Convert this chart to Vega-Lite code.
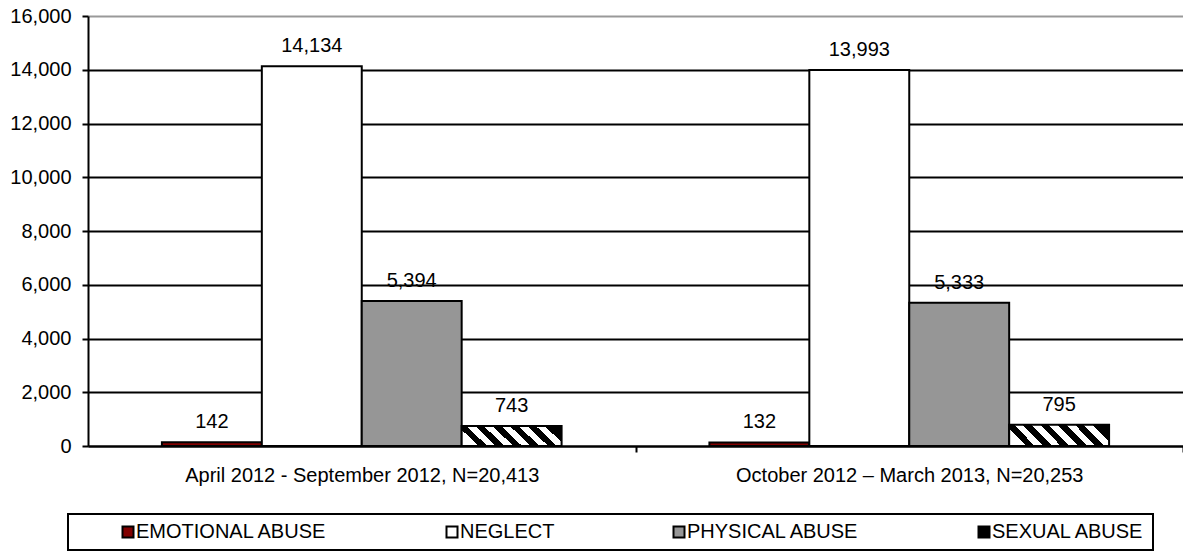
{
  "$schema": "https://vega.github.io/schema/vega-lite/v6.json",
  "autosize": {"type": "none"},
  "width": 1095,
  "height": 430,
  "padding": {"left": 88, "top": 16, "right": 0, "bottom": 108},
  "background": "white",
  "config": {
    "view": {"stroke": null},
    "font": "Liberation Sans",
    "axis": {"labelFont": "Liberation Sans", "labelColor": "black", "titleColor": "black"}
  },
  "data": {
    "values": [
      {"period": "April 2012 - September 2012, N=20,413", "type": "EMOTIONAL ABUSE", "count": 142},
      {"period": "April 2012 - September 2012, N=20,413", "type": "NEGLECT", "count": 14134},
      {"period": "April 2012 - September 2012, N=20,413", "type": "PHYSICAL ABUSE", "count": 5394},
      {"period": "April 2012 - September 2012, N=20,413", "type": "SEXUAL ABUSE", "count": 743},
      {"period": "October 2012 – March 2013, N=20,253", "type": "EMOTIONAL ABUSE", "count": 132},
      {"period": "October 2012 – March 2013, N=20,253", "type": "NEGLECT", "count": 13993},
      {"period": "October 2012 – March 2013, N=20,253", "type": "PHYSICAL ABUSE", "count": 5333},
      {"period": "October 2012 – March 2013, N=20,253", "type": "SEXUAL ABUSE", "count": 795}
    ]
  },
  "encoding": {
    "x": {
      "field": "period",
      "type": "nominal",
      "sort": null,
      "title": null,
      "scale": {"paddingInner": 0.27, "paddingOuter": 0.135},
      "axis": {
        "labelAngle": 0,
        "labelFontSize": 20,
        "labelBaseline": "alphabetic",
        "labelPadding": 29,
        "labelLimit": 600,
        "bandPosition": 0.5,
        "tickExtra": false,
        "tickOffset": 274,
        "labelOffset": -274,
        "ticks": true,
        "tickSize": 6,
        "tickWidth": 2,
        "tickColor": "black",
        "domainColor": "black",
        "domainWidth": 2,
        "grid": false
      }
    },
    "xOffset": {
      "field": "type",
      "type": "nominal",
      "sort": ["EMOTIONAL ABUSE", "NEGLECT", "PHYSICAL ABUSE", "SEXUAL ABUSE"],
      "scale": {"paddingInner": 0, "paddingOuter": 0}
    },
    "y": {
      "field": "count",
      "type": "quantitative",
      "title": null,
      "scale": {"domain": [0, 16000], "nice": false},
      "axis": {
        "values": [0, 2000, 4000, 6000, 8000, 10000, 12000, 14000, 16000],
        "format": ",.0f",
        "labelFontSize": 20,
        "labelPadding": 11,
        "tickSize": 6,
        "tickWidth": 2,
        "tickColor": "black",
        "domainColor": "black",
        "domainWidth": 2,
        "grid": true,
        "gridWidth": 2,
        "gridColor": {"condition": {"test": "datum.value === 16000", "value": "#999999"}, "value": "black"}
      }
    }
  },
  "layer": [
    {
      "mark": {"type": "bar", "stroke": "black", "strokeWidth": 2, "fillOpacity": 1},
      "encoding": {
        "fill": {
          "condition": {
            "test": "datum.type === 'SEXUAL ABUSE'",
            "value": {
              "gradient": "linear",
              "x1": 0, "y1": 0.605, "x2": 1, "y2": 0.395,
              "stops": [
                {"offset": 0, "color": "#ffffff"}, {"offset": 0.0833, "color": "#ffffff"},
                {"offset": 0.0833, "color": "#000000"}, {"offset": 0.1667, "color": "#000000"},
                {"offset": 0.1667, "color": "#ffffff"}, {"offset": 0.25, "color": "#ffffff"},
                {"offset": 0.25, "color": "#000000"}, {"offset": 0.3333, "color": "#000000"},
                {"offset": 0.3333, "color": "#ffffff"}, {"offset": 0.4167, "color": "#ffffff"},
                {"offset": 0.4167, "color": "#000000"}, {"offset": 0.5, "color": "#000000"},
                {"offset": 0.5, "color": "#ffffff"}, {"offset": 0.5833, "color": "#ffffff"},
                {"offset": 0.5833, "color": "#000000"}, {"offset": 0.6667, "color": "#000000"},
                {"offset": 0.6667, "color": "#ffffff"}, {"offset": 0.75, "color": "#ffffff"},
                {"offset": 0.75, "color": "#000000"}, {"offset": 0.8333, "color": "#000000"},
                {"offset": 0.8333, "color": "#ffffff"}, {"offset": 0.9167, "color": "#ffffff"},
                {"offset": 0.9167, "color": "#000000"}, {"offset": 1, "color": "#000000"}
              ]
            }
          },
          "field": "type",
          "type": "nominal",
          "scale": {
            "domain": ["EMOTIONAL ABUSE", "NEGLECT", "PHYSICAL ABUSE", "SEXUAL ABUSE"],
            "range": ["#800000", "#ffffff", "#969696", "#000000"]
          },
          "legend": {
            "title": null,
            "orient": "none",
            "direction": "horizontal",
            "columns": 4,
            "legendX": -20,
            "legendY": 498,
            "padding": 8,
            "strokeColor": "black",
            "fillColor": "white",
            "symbolType": "square",
            "symbolSize": 121,
            "symbolStrokeColor": "black",
            "symbolStrokeWidth": 2,
            "symbolOffset": 42,
            "columnPadding": 72,
            "labelOffset": -2,
            "labelFont": "Liberation Sans",
            "labelFontSize": 20,
            "labelColor": "black",
            "labelLimit": 400,
            "encode": {
              "legend": {"update": {"strokeWidth": {"value": 2}}},
              "symbols": {
                "update": {
                  "fill": {
                    "signal": "datum.value === 'SEXUAL ABUSE' ? {gradient: 'linear', x1: 0, y1: 0, x2: 1, y2: 1, stops: [{offset: 0, color: '#000000'}, {offset: 0.25, color: '#000000'}, {offset: 0.25, color: '#ffffff'}, {offset: 0.6, color: '#ffffff'}, {offset: 0.6, color: '#000000'}, {offset: 1, color: '#000000'}]} : scale('fill', datum.value)"
                  },
                  "stroke": {"value": "black"},
                  "strokeWidth": {"value": 2},
                  "opacity": {"value": 1}
                }
              }
            }
          }
        }
      }
    },
    {
      "mark": {"type": "text", "font": "Liberation Sans", "fontSize": 20, "color": "black", "baseline": "alphabetic", "dy": -14},
      "encoding": {
        "text": {"field": "count", "type": "quantitative", "format": ","}
      }
    }
  ]
}
